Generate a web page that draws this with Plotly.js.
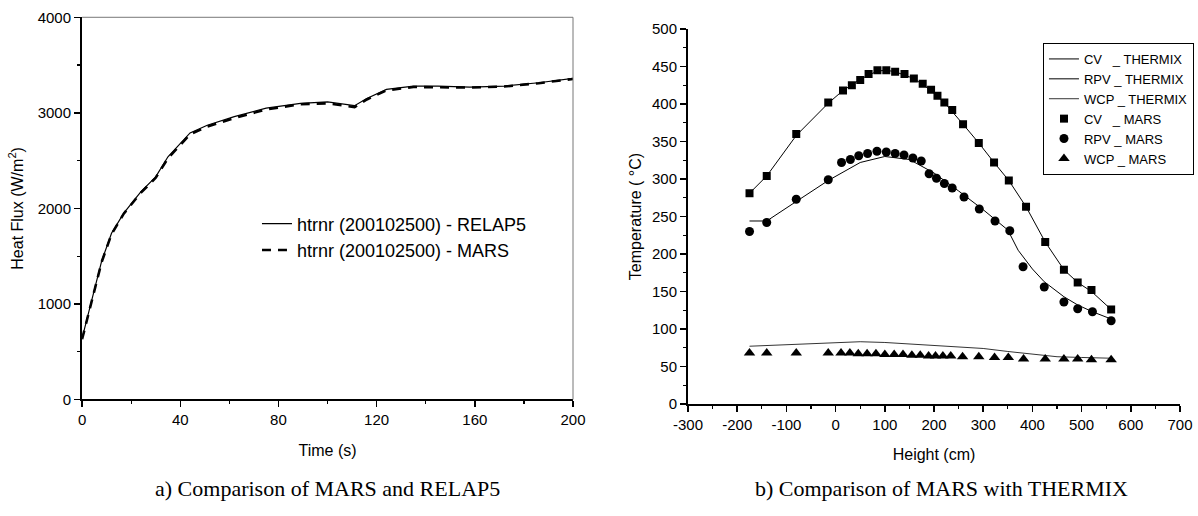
<!DOCTYPE html>
<html>
<head>
<meta charset="utf-8">
<script src="https://cdn.plot.ly/plotly-3.0.1.min.js"></script>
<style>html,body{margin:0;padding:0;background:#fff;}#chart{width:1198px;height:516px;}</style>
</head>
<body>
<div id="chart"></div>
<script>
// ---- Panel a) Heat flux vs time ----
const timeRelap = [0, 4, 8, 12, 17, 24, 30, 35, 39, 44, 51, 62, 75, 89, 100, 111, 116, 124, 135, 145, 158, 172, 186, 200];
const fluxRelap = [640, 1050, 1450, 1740, 1950, 2175, 2330, 2540, 2650, 2790, 2870, 2960, 3050, 3100, 3115, 3075, 3150, 3245, 3280, 3280, 3270, 3280, 3315, 3360];
const timeMars = [0, 4, 8, 12, 17, 24, 30, 35, 39, 44, 51, 62, 75, 89, 100, 111, 116, 124, 135, 145, 158, 172, 186, 200];
const fluxMars = [630, 1040, 1440, 1730, 1945, 2165, 2320, 2525, 2640, 2775, 2855, 2945, 3035, 3090, 3100, 3060, 3140, 3235, 3270, 3270, 3265, 3275, 3310, 3355];

// ---- Panel b) Temperature vs height ----
const cvMarsX = [-175, -140, -80, -15, 15, 33, 50, 67, 85, 103, 121, 140, 159, 177, 194, 207, 221, 237, 259, 291, 322, 352, 387, 426, 464, 492, 520, 560];
const cvMarsT = [281, 304, 360, 402, 418, 425, 432, 440, 445, 445, 443, 440, 434, 427, 419, 411, 402, 392, 373, 348, 322, 298, 263, 216, 179, 162, 152, 126];
const rpvMarsX = [-175, -140, -80, -15, 12, 30, 47, 65, 84, 103, 121, 139, 157, 174, 190, 205, 221, 237, 261, 292, 324, 354, 381, 424, 464, 492, 522, 560];
const rpvMarsT = [230, 242, 273, 299, 322, 326, 331, 334, 337, 336, 334, 332, 328, 324, 307, 301, 294, 288, 276, 260, 244, 231, 183, 156, 136, 127, 123, 111];
const wcpMarsX = [-175, -140, -80, -15, 11, 29, 46, 64, 82, 100, 119, 137, 155, 172, 189, 203, 218, 234, 258, 291, 323, 351, 382, 426, 464, 492, 520, 560];
const wcpMarsT = [68, 68, 68, 68, 68, 68, 67, 67, 67, 66, 66, 66, 65, 65, 64, 64, 64, 64, 63, 63, 62, 62, 60, 60, 60, 60, 59, 59];

const cvThermixX = [-175, -140, -80, -15, 15, 50, 85, 103, 121, 159, 194, 221, 259, 291, 322, 352, 387, 426, 464, 492, 520, 560];
const cvThermixT = [281, 304, 358, 401, 418, 433, 444, 445, 443, 434, 418, 402, 373, 348, 322, 298, 263, 216, 179, 162, 150, 126];
const rpvThermixX = [-175, -140, -80, -15, 50, 100, 150, 200, 250, 300, 350, 371, 400, 424, 464, 492, 522, 561];
const rpvThermixT = [244, 244, 270, 298, 322, 330, 326, 308, 284, 259, 232, 205, 180, 163, 143, 132, 123, 113];
const wcpThermixX = [-175, -100, -15, 50, 100, 150, 200, 250, 300, 350, 400, 450, 500, 560];
const wcpThermixT = [77, 79, 82, 83, 82, 80, 79, 77, 74, 70, 66, 63, 62, 61];

// tick labels of the height axis (printed with a plain hyphen in the reference)
const heightTickVals = [-300, -200, -100, 0, 100, 200, 300, 400, 500, 600, 700];
const heightTickText = ['-300', '-200', '-100', '0', '100', '200', '300', '400', '500', '600', '700'];

const tickFont = {family: 'Liberation Sans, Arial, sans-serif', size: 15, color: '#000'};
const titleFont = {family: 'Liberation Sans, Arial, sans-serif', size: 16, color: '#000'};

const traces = [
  {x: timeRelap, y: fluxRelap, type: 'scatter', mode: 'lines', name: 'htrnr (200102500) - RELAP5',
   line: {color: '#000', width: 1.2}, xaxis: 'x', yaxis: 'y', legend: 'legend'},
  {x: timeMars, y: fluxMars, type: 'scatter', mode: 'lines', name: 'htrnr (200102500) - MARS',
   line: {color: '#000', width: 2.6, dash: '9px,7px'}, xaxis: 'x', yaxis: 'y', legend: 'legend'},

  {x: cvThermixX, y: cvThermixT, type: 'scatter', mode: 'lines', name: 'CV\u00a0\u00a0\u00a0_ THERMIX',
   line: {color: '#000', width: 1}, xaxis: 'x2', yaxis: 'y2', legend: 'legend2'},
  {x: rpvThermixX, y: rpvThermixT, type: 'scatter', mode: 'lines', name: 'RPV _ THERMIX',
   line: {color: '#000', width: 1}, xaxis: 'x2', yaxis: 'y2', legend: 'legend2'},
  {x: wcpThermixX, y: wcpThermixT, type: 'scatter', mode: 'lines', name: 'WCP _ THERMIX',
   line: {color: '#000', width: 0.8}, xaxis: 'x2', yaxis: 'y2', legend: 'legend2'},
  {x: cvMarsX, y: cvMarsT, type: 'scatter', mode: 'markers', name: 'CV\u00a0\u00a0\u00a0_ MARS',
   marker: {symbol: 'square', size: 8, color: '#000'}, xaxis: 'x2', yaxis: 'y2', legend: 'legend2'},
  {x: rpvMarsX, y: rpvMarsT, type: 'scatter', mode: 'markers', name: 'RPV _ MARS',
   marker: {symbol: 'circle', size: 9, color: '#000'}, xaxis: 'x2', yaxis: 'y2', legend: 'legend2'},
  {x: wcpMarsX, y: wcpMarsT, type: 'scatter', mode: 'markers', name: 'WCP _ MARS',
   marker: {symbol: 'triangle-up', size: 10, color: '#000'}, xaxis: 'x2', yaxis: 'y2', legend: 'legend2'}
];

const axisCommon = {
  showgrid: false, zeroline: false, showline: true, linecolor: '#000', linewidth: 2,
  ticks: 'outside', ticklen: 6, tickwidth: 1.5, tickcolor: '#000', tickfont: tickFont
};

const layout = {
  width: 1198, height: 516,
  margin: {l: 0, r: 0, t: 0, b: 0},
  paper_bgcolor: '#fff', plot_bgcolor: '#fff',
  font: {family: 'Liberation Sans, Arial, sans-serif', color: '#000'},
  xaxis: Object.assign({}, axisCommon, {
    domain: [0.0685, 0.4783], range: [0, 200], dtick: 40, tick0: 0, anchor: 'y',
    minor: {dtick: 20, ticks: 'outside', ticklen: 3, tickcolor: '#000', tickwidth: 1.2},
    title: {text: 'Time (s)', font: titleFont, standoff: 17}
  }),
  yaxis: Object.assign({}, axisCommon, {
    domain: [0.2258, 0.9665], range: [0, 4000], dtick: 1000, tick0: 0, anchor: 'x',
    minor: {dtick: 500, ticks: 'outside', ticklen: 3, tickcolor: '#000', tickwidth: 1.2},
    title: {text: 'Heat Flux (W/m<sup>2</sup>)', font: titleFont, standoff: 10}
  }),
  xaxis2: Object.assign({}, axisCommon, {
    domain: [0.5743, 0.9850], range: [-300, 700], tickmode: 'array',
    tickvals: heightTickVals, ticktext: heightTickText, anchor: 'y2',
    minor: {dtick: 50, tick0: 0, ticks: 'outside', ticklen: 3, tickcolor: '#000', tickwidth: 1.2},
    title: {text: 'Height (cm)', font: titleFont, standoff: 17}
  }),
  yaxis2: Object.assign({}, axisCommon, {
    domain: [0.2171, 0.9438], range: [0, 500], dtick: 50, tick0: 0, anchor: 'x2',
    minor: {dtick: 25, ticks: 'outside', ticklen: 3, tickcolor: '#000', tickwidth: 1.2},
    title: {text: 'Temperature ( \u00b0C)', font: titleFont, standoff: 6}
  }),
  legend: {
    x: 0.2145, y: 0.602, xanchor: 'left', yanchor: 'top',
    bgcolor: 'rgba(0,0,0,0)', borderwidth: 0,
    font: {family: 'Liberation Sans, Arial, sans-serif', size: 18, color: '#000'},
    tracegroupgap: 0
  },
  legend2: {
    x: 0.8706, y: 0.9167, xanchor: 'left', yanchor: 'top',
    bgcolor: '#fff', bordercolor: '#000', borderwidth: 1,
    font: {family: 'Liberation Sans, Arial, sans-serif', size: 13, color: '#000'},
    tracegroupgap: 0
  },
  shapes: [
    {type: 'line', xref: 'x domain', yref: 'y domain', x0: 0, x1: 1, y0: 1, y1: 1,
     line: {color: '#777', width: 1}},
    {type: 'line', xref: 'x domain', yref: 'y domain', x0: 1, x1: 1, y0: 0, y1: 1,
     line: {color: '#777', width: 1}}
  ],
  annotations: [
    {text: 'a) Comparison of MARS and RELAP5', xref: 'paper', yref: 'paper', x: 0.273, y: 0.053,
     xanchor: 'center', yanchor: 'middle', showarrow: false,
     font: {family: 'Liberation Serif, Times New Roman, serif', size: 22, color: '#000'}},
    {text: 'b) Comparison of MARS with THERMIX', xref: 'paper', yref: 'paper', x: 0.786, y: 0.053,
     xanchor: 'center', yanchor: 'middle', showarrow: false,
     font: {family: 'Liberation Serif, Times New Roman, serif', size: 22, color: '#000'}}
  ],
  showlegend: true
};

Plotly.newPlot('chart', traces, layout, {staticPlot: true, displayModeBar: false});
</script>
</body>
</html>
